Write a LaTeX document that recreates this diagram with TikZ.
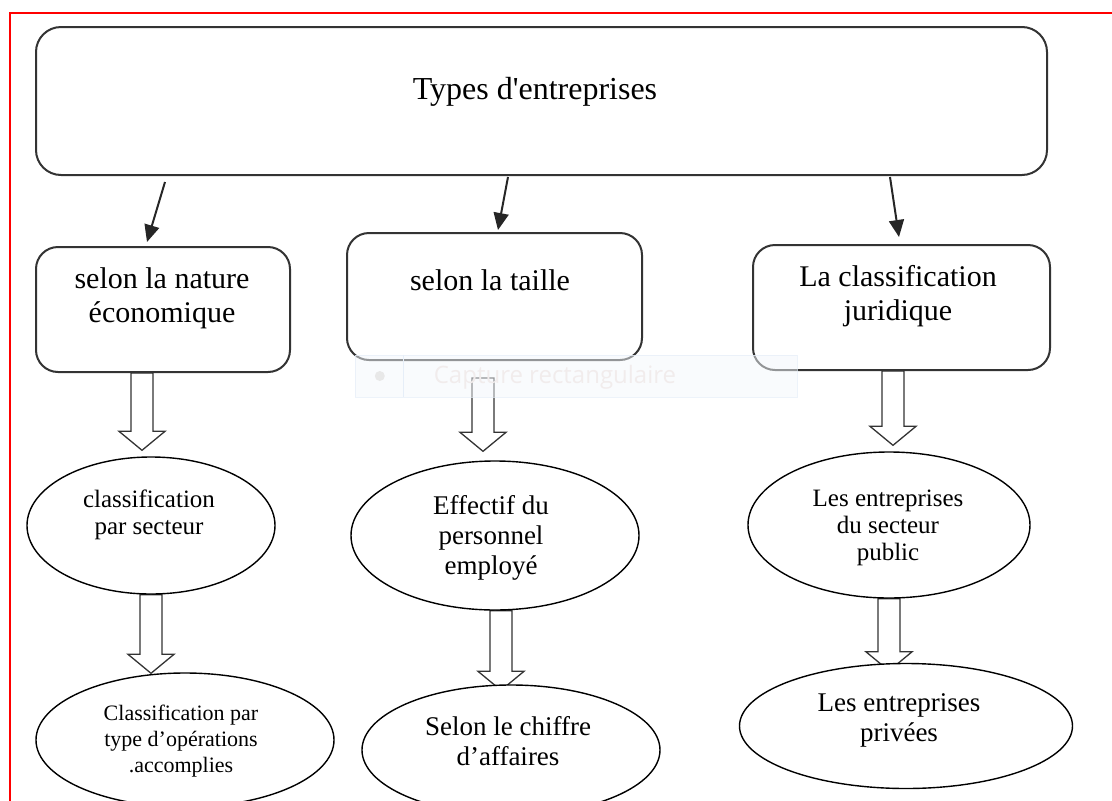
\documentclass[tikz,border=0pt]{standalone}
\usepackage{fontspec}
\setmainfont{Liberation Serif}
\newfontfamily\uifont{Open Sans}
\usetikzlibrary{shapes.geometric, arrows.meta, calc, backgrounds}
\definecolor{boxline}{HTML}{333333}
\definecolor{capfill}{HTML}{F3F7FC}
\definecolor{capline}{HTML}{E6EEF8}
\definecolor{captext}{HTML}{F1ECEC}

% hollow block arrow: from node, to node, x, gap below start, gap above tip
\newcommand{\fatarrow}[5]{%
  \draw[fatline] let \p1=(#1.south), \p2=(#2.north) in
    ({#3pt-11pt},{\y1-(#4pt)}) -- ({#3pt-11pt},{\y2+(#5pt)+19pt}) -- ({#3pt-23pt},{\y2+(#5pt)+19pt})
    -- ({#3pt},{\y2+(#5pt)}) -- ({#3pt+23pt},{\y2+(#5pt)+19pt}) -- ({#3pt+11pt},{\y2+(#5pt)+19pt})
    -- ({#3pt+11pt},{\y1-(#4pt)}) -- cycle;}

\begin{document}
\begin{tikzpicture}[x=1pt, y=-1pt,
  roundbox/.style={draw=boxline, line width=2pt, rounded corners=22pt, fill=white},
  bigtxt/.style={font=\fontsize{30}{34}\selectfont, align=center},
  midtxt/.style={font=\fontsize{27}{30}\selectfont, align=center},
  smalltxt/.style={font=\fontsize{25}{27}\selectfont, align=center},
  oval/.style={draw, ellipse, line width=1.4pt, fill=white, inner sep=0pt},
  thinarrow/.style={draw=black!85, line width=2pt, -{Triangle[length=17pt,width=15pt]}},
  fatline/.style={draw=black!80, line width=1.3pt, fill=white, line join=miter}]
\useasboundingbox (0,0) rectangle (1112,801);

% Frame
\draw[red, line width=2pt] (10,801) -- (10,13) -- (1112,13);

% Top box
\node[roundbox, rounded corners=25pt, minimum width=1011pt, minimum height=148pt] (types) at (541.5,101) {};
\node[font=\fontsize{32}{36}\selectfont] (typesTxt) at (535,92) {Types d\textquotesingle entreprises};

% Criteria
\node[roundbox, minimum width=254pt, minimum height=125pt] (nature) at (163,309.5) {};
\node[bigtxt] (natureTxt) at (162,298) {selon la nature\\économique};
\node[roundbox, minimum width=295pt, minimum height=127pt] (taille) at (494.5,296.5) {};
\node[bigtxt] (tailleTxt) at (490,280) {selon la taille};
\node[roundbox, minimum width=297pt, minimum height=125pt] (juridique) at (901.5,307.5) {};
\node[bigtxt] (juridiqueTxt) at (898,296) {La classification\\juridique};

% First row of ellipses
\node[oval, minimum width=248pt, minimum height=137pt] (secteur) at (151,525.5) {};
\node[smalltxt] (secteurTxt) at (149,515) {classification\\par secteur};
\node[oval, minimum width=288pt, minimum height=149pt] (effectif) at (495,535.5) {};
\node[midtxt] (effectifTxt) at (491,538) {Effectif du\\personnel\\employé};
\node[oval, minimum width=282pt, minimum height=146pt] (public) at (889,525) {};
\node[smalltxt] (publicTxt) at (888,528) {Les entreprises\\du secteur\\public};

% Second row of ellipses
\node[oval, minimum width=298pt, minimum height=134pt] (operations) at (185,740) {};
\node[font=\fontsize{22}{26}\selectfont, align=center] (operationsTxt) at (181,741) {Classification par\\type d’opérations\\.accomplies};
\node[oval, minimum width=298pt, minimum height=130pt] (chiffre) at (511,750) {};
\node[midtxt] (chiffreTxt) at (508,741) {Selon le chiffre\\d’affaires};
\node[oval, minimum width=333pt, minimum height=125pt] (privees) at (906,726) {};
\node[midtxt] (priveesTxt) at (899,720) {Les entreprises\\privées};

% Arrows
\draw[thinarrow] ([xshift=-376.5pt,yshift=-6pt]types.south) -- ([xshift=-16pt,yshift=4pt]nature.north);
\draw[thinarrow] ([xshift=-33.5pt,yshift=-1pt]types.south) -- ([xshift=3.5pt,yshift=2pt]taille.north);
\draw[thinarrow] ([xshift=348.5pt,yshift=-1pt]types.south) -- ([xshift=-2.5pt,yshift=7pt]juridique.north);

% Block arrows
\begin{scope}[on background layer]
\fatarrow{nature}{secteur}{142}{0}{6}
\fatarrow{taille}{effectif}{483}{17}{9}
\fatarrow{juridique}{public}{893}{0}{6}
\fatarrow{secteur}{operations}{151}{0}{-1}
\fatarrow{effectif}{chiffre}{501}{0}{-6}
\fatarrow{public}{privees}{889}{0}{-8}
\end{scope}

% Screen capture tooltip
\node[draw=capline, fill=capfill, fill opacity=0.5, draw opacity=0.7, minimum width=442pt, minimum height=42pt, inner sep=0pt] (capture) at (576,376) {};
\draw[capline] ([xshift=48pt]capture.north west) -- ([xshift=48pt]capture.south west);
\fill[black!9] ([xshift=25pt]capture.west) circle (5pt);
\node[font=\uifont\fontsize{24}{28}\selectfont, text=captext] (captureTxt) at (555,377) {Capture rectangulaire};
\end{tikzpicture}
\end{document}
